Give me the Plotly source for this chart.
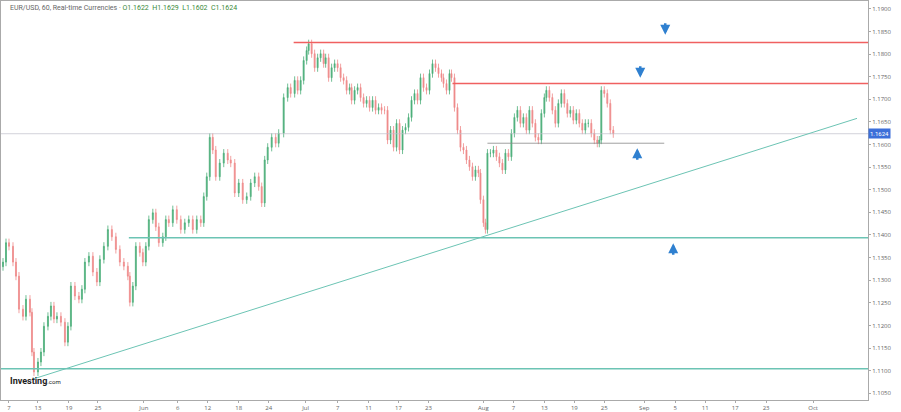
import plotly.graph_objects as go

bar_pos = [2,5,8,12,15,18,22,25,29,31,33,37,40,43,47,50,53,56,60,64,67,70,74,78,81,84,88,92,96,99,
 103,107,111,115,119,123,127,129,132,135,139,142,145,148,152,155,158,162,165,168,172,176,180,184,188,192,196,200,203,206,
 209,212,215,219,223,227,230,234,238,242,246,250,254,258,261,264,267,271,275,278,283,287,290,294,297,300,303,306,308,311,
 314,317,320,323,325,328,331,334,337,340,343,346,349,351,354,357,360,363,366,369,372,375,378,381,384,387,390,393,396,399,
 402,405,408,411,414,417,420,423,426,429,432,435,438,441,443,446,449,451,454,457,460,463,466,469,472,475,478,480,483,485,
 487,490,493,496,499,502,505,508,511,514,517,520,523,526,529,532,535,538,541,544,546,549,552,555,558,561,564,567,570,573,
 576,579,582,585,588,591,594,597,599,601,604,607,610,613]
close = [1.1340,1.1383,1.1375,1.1340,1.1309,1.1236,1.1220,1.1258,1.1229,1.1141,1.1097,1.1119,1.1141,1.1198,1.1220,1.1243,1.1214,1.1220,1.1207,1.1163,
 1.1198,1.1287,1.1265,1.1258,1.1280,1.1340,1.1353,1.1318,1.1296,1.1346,1.1375,1.1412,1.1396,1.1368,1.1340,1.1331,1.1309,1.1251,1.1287,1.1375,
 1.1361,1.1340,1.1375,1.1434,1.1449,1.1418,1.1383,1.1396,1.1434,1.1427,1.1456,1.1434,1.1412,1.1427,1.1434,1.1412,1.1434,1.1427,1.1485,1.1529,
 1.1616,1.1588,1.1529,1.1559,1.1581,1.1566,1.1559,1.1493,1.1515,1.1478,1.1485,1.1515,1.1529,1.1507,1.1471,1.1566,1.1594,1.1616,1.1603,1.1625,
 1.1704,1.1726,1.1713,1.1742,1.1720,1.1742,1.1786,1.1808,1.1823,1.1801,1.1770,1.1792,1.1801,1.1779,1.1792,1.1748,1.1770,1.1779,1.1770,1.1748,
 1.1742,1.1720,1.1726,1.1698,1.1720,1.1726,1.1704,1.1691,1.1698,1.1682,1.1698,1.1676,1.1682,1.1676,1.1676,1.1610,1.1632,1.1594,1.1647,1.1588,
 1.1632,1.1638,1.1660,1.1698,1.1713,1.1698,1.1748,1.1726,1.1720,1.1757,1.1779,1.1770,1.1757,1.1748,1.1735,1.1720,1.1757,1.1748,1.1682,1.1632,
 1.1594,1.1588,1.1566,1.1551,1.1529,1.1544,1.1537,1.1478,1.1427,1.1412,1.1581,1.1581,1.1588,1.1573,1.1559,1.1544,1.1581,1.1573,1.1625,1.1660,
 1.1676,1.1647,1.1660,1.1632,1.1676,1.1647,1.1616,1.1610,1.1669,1.1704,1.1720,1.1704,1.1676,1.1647,1.1691,1.1713,1.1691,1.1669,1.1676,1.1654,
 1.1669,1.1647,1.1632,1.1647,1.1647,1.1625,1.1610,1.1603,1.1610,1.1720,1.1713,1.1691,1.1632,1.1624]

tick_pos = [8,37,68,97,143,177,207,238,268,305,337,368,398,428,483,513,544,574,604,644,675,705,735,766,813]
tick_txt = ['7','13','19','25','Jun','6','12','18','24','Jul','7','11','17','23','Aug','7','13','19','25','Sep','5','11','17','23','Oct']
price_ticks = [round(1.19 - 0.005 * i, 4) for i in range(18)]
price_txt = ['%.4f' % p for p in price_ticks]

opens = [close[0] - 0.0010] + close[:-1]
wick = 0.0009
highs = [max(o, c) + wick for o, c in zip(opens, close)]
lows = [min(o, c) - wick for o, c in zip(opens, close)]

fig = go.Figure(go.Candlestick(
    x=bar_pos, open=opens, high=highs, low=lows, close=close,
    increasing=dict(line=dict(color='#4caf7a', width=0.8), fillcolor='#4caf7a'),
    decreasing=dict(line=dict(color='#ef8a8a', width=0.8), fillcolor='#ef8a8a'),
    whiskerwidth=0, showlegend=False, hoverinfo='skip'))

X1 = 868
shapes = [
    dict(type='line', x0=293, x1=X1, y0=1.1826, y1=1.1826, line=dict(color='#f06060', width=1.5)),
    dict(type='line', x0=452, x1=X1, y0=1.1735, y1=1.1735, line=dict(color='#f06060', width=1.5)),
    dict(type='line', x0=0, x1=X1, y0=1.1624, y1=1.1624, line=dict(color='#c0c0cc', width=0.7)),
    dict(type='line', x0=487, x1=664, y0=1.1603, y1=1.1603, line=dict(color='#888888', width=0.8)),
    dict(type='line', x0=128, x1=X1, y0=1.1394, y1=1.1394, line=dict(color='#6cc4b4', width=1.5)),
    dict(type='line', x0=0, x1=X1, y0=1.1104, y1=1.1104, line=dict(color='#6cc4b4', width=1.5)),
    dict(type='line', x0=33, x1=857, y0=1.1082, y1=1.1658, line=dict(color='#6cc4b4', width=1)),
]
fig.update_layout(shapes=shapes)

def arrow(x, y, up):
    fig.add_annotation(x=x, y=y + (0.0012 if up else -0.0012), ax=0, ay=(13 if up else -13),
                       xref='x', yref='y', showarrow=True, arrowhead=2, arrowsize=0.8,
                       arrowwidth=2.5, arrowcolor='#2f80d0', text='')
arrow(665, 1.1855, False)
arrow(640, 1.1760, False)
arrow(637, 1.1580, True)
arrow(673, 1.1370, True)

fig.add_annotation(x=1, y=1.1624, xref='paper', yref='y', xanchor='left', text='1.1624',
                   showarrow=False, bgcolor='#3d6fd9', font=dict(color='white', size=6, family='Roboto'),
                   borderpad=1)
fig.add_annotation(x=0.008, y=0.998, xref='paper', yref='paper', xanchor='left', yanchor='top',
                   text="EUR/USD, 60, Real-time Currencies · <span style='color:#3a8a3a'>O1.1622  H1.1629  L1.1602  C1.1624</span>",
                   showarrow=False, font=dict(color='#666666', size=7, family='Roboto'))
fig.add_annotation(x=0.008, y=0.03, xref='paper', yref='paper', xanchor='left', yanchor='bottom',
                   text="<b>Investing</b><span style='font-size:6px'>.com</span>",
                   showarrow=False, font=dict(color='#222222', size=9, family='Roboto'))

fig.update_layout(
    width=901, height=412, margin=dict(l=0, r=33, t=0, b=10),
    plot_bgcolor='white', paper_bgcolor='white',
    xaxis=dict(range=[0, X1], tickvals=tick_pos, ticktext=tick_txt, showgrid=False,
               rangeslider=dict(visible=False), tickfont=dict(size=6, color='#666'),
               showline=True, linecolor='#aaa', ticks='outside', ticklen=2, tickcolor='#aaa', mirror=True),
    yaxis=dict(side='right', range=[1.1035, 1.19176], tickvals=price_ticks, ticktext=price_txt,
               showgrid=False, tickfont=dict(size=6, color='#666'), showline=True, linecolor='#aaa',
               ticks='outside', ticklen=2, tickcolor='#aaa', mirror=True),
)
fig.write_html("out.html", config={'displayModeBar': False},
               post_script="document.body.style.margin='0';document.body.style.overflow='hidden';")
